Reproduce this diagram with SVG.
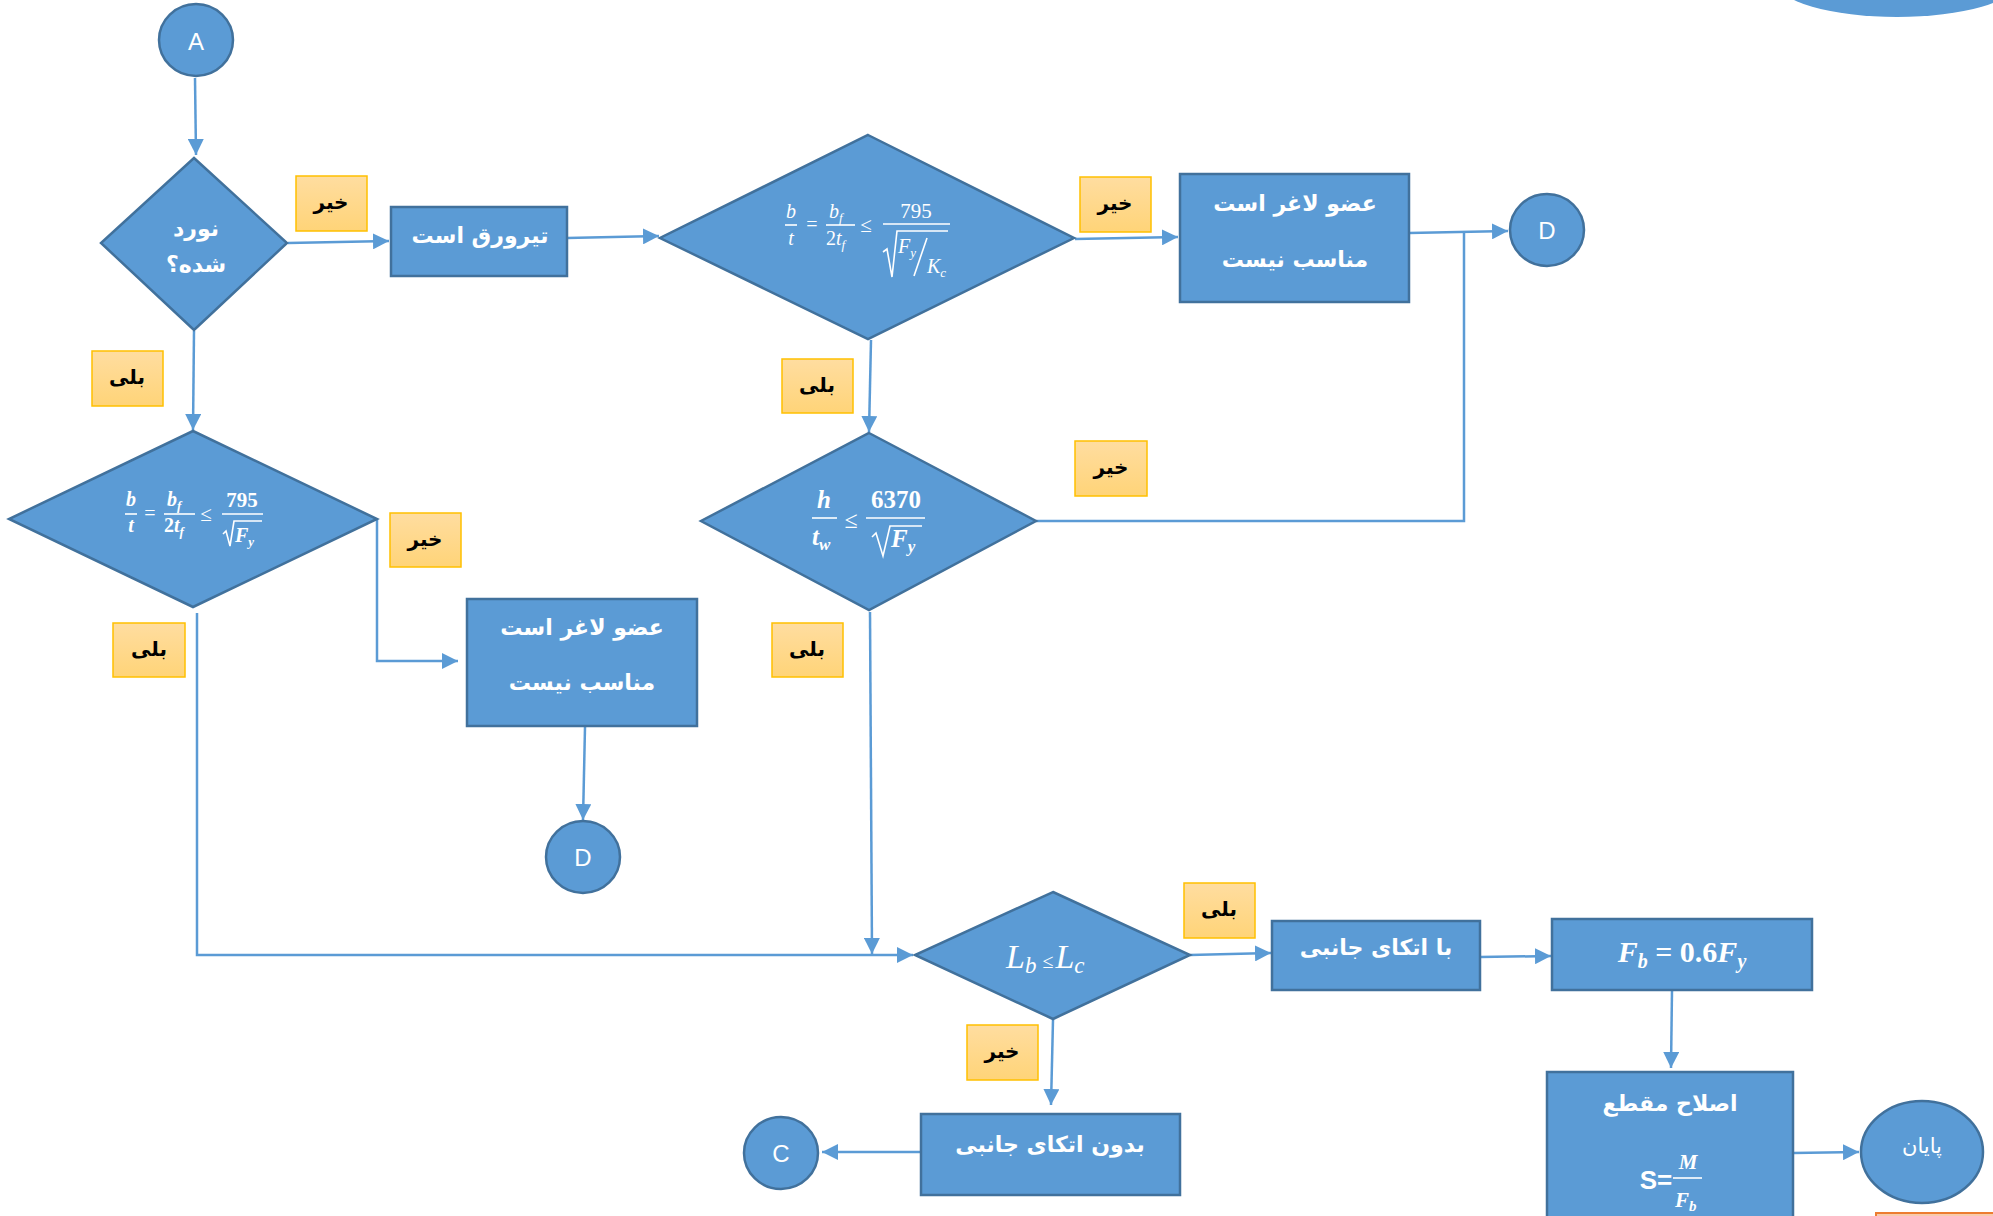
<svg xmlns="http://www.w3.org/2000/svg" width="1993" height="1216" viewBox="0 0 1993 1216">
<style>
.node{fill:#5B9BD5;stroke:#41719C;stroke-width:2.5}
.lbl{fill:url(#lg);stroke:#FFC000;stroke-width:1.5}
.con{fill:none;stroke:#5B9BD5;stroke-width:2.5}
.ar{font-family:"DejaVu Sans","Noto Sans",sans-serif;font-weight:bold;fill:#fff;text-anchor:middle;font-size:22px}
.lt{font-family:"DejaVu Sans","Noto Sans",sans-serif;font-weight:bold;fill:#000;text-anchor:middle;font-size:20px}
.ltr{font-family:"Liberation Sans",Arial,sans-serif;fill:#fff;text-anchor:middle;font-size:24px}
.m{font-family:"Liberation Serif","DejaVu Serif",serif;fill:#fff;font-style:italic}
.mb{font-family:"Liberation Serif","DejaVu Serif",serif;fill:#fff;font-style:italic;font-weight:bold}
.n{font-style:normal}
.bar{stroke:#fff;stroke-width:1.6;fill:none}
</style>
<defs>
<linearGradient id="lg" x1="0" y1="0" x2="0" y2="1">
<stop offset="0" stop-color="#FFDDA0"/>
<stop offset="1" stop-color="#FFD478"/>
</linearGradient>
<marker id="ah" markerUnits="userSpaceOnUse" markerWidth="17" markerHeight="16" refX="16" refY="8" orient="auto">
<path d="M0,0 L16,8 L0,16 z" fill="#5B9BD5"/>
</marker>
</defs>

<g id="connectors">
<path class="con" d="M195,78 L196,155" marker-end="url(#ah)"/>
<path class="con" d="M288,243 L389,241" marker-end="url(#ah)"/>
<path class="con" d="M567,238 L659,236" marker-end="url(#ah)"/>
<path class="con" d="M1075,239 L1178,237" marker-end="url(#ah)"/>
<path class="con" d="M1409,233 L1508,231" marker-end="url(#ah)"/>
<path class="con" d="M1036,521 L1464,521 L1464,232"/>
<path class="con" d="M871,340 L869,432" marker-end="url(#ah)"/>
<path class="con" d="M194,331 L193,430" marker-end="url(#ah)"/>
<path class="con" d="M377,519 L377,661 L458,661" marker-end="url(#ah)"/>
<path class="con" d="M585,727 L583,820" marker-end="url(#ah)"/>
<path class="con" d="M197,613 L197,955 L913,955" marker-end="url(#ah)"/>
<path class="con" d="M870,612 L872,954" marker-end="url(#ah)"/>
<path class="con" d="M1190,955 L1271,953" marker-end="url(#ah)"/>
<path class="con" d="M1480,957 L1551,956" marker-end="url(#ah)"/>
<path class="con" d="M1672,990 L1671,1068" marker-end="url(#ah)"/>
<path class="con" d="M1793,1153 L1859,1152" marker-end="url(#ah)"/>
<path class="con" d="M1053,1020 L1051,1105" marker-end="url(#ah)"/>
<path class="con" d="M921,1152 L822,1152" marker-end="url(#ah)"/>
</g>

<g id="partial-top">
<ellipse cx="1897" cy="-18" rx="120" ry="35" fill="#5B9BD5"/>
</g>
<g id="partial-bottom">
<rect x="1876" y="1213" width="130" height="40" fill="#F8CBAD" stroke="#ED7D31" stroke-width="2"/>
</g>

<g id="nodeA">
<ellipse class="node" cx="196" cy="40" rx="37" ry="36"/>
<text class="ltr" x="196" y="50">A</text>
</g>

<g id="decision-rolled">
<polygon class="node" points="194,158 287,243 194,330 101,243"/>
<text class="ar" x="196" y="236" font-size="23">نورد</text>
<text class="ar" x="196" y="272" font-size="23">شده؟</text>
</g>

<g id="box-plate">
<rect class="node" x="391" y="207" width="176" height="69"/>
<text class="ar" x="480" y="243">تیرورق است</text>
</g>

<g id="decision-flange-plate">
<polygon class="node" points="868,135 1074,238 868,339 660,238"/>
<text class="m" x="791" y="218" text-anchor="middle" font-size="20">b</text>
<line class="bar" x1="785" y1="225" x2="797" y2="225"/>
<text class="m" x="791" y="245" text-anchor="middle" font-size="20">t</text>
<text class="m n" x="812" y="231" text-anchor="middle" font-size="20">=</text>
<text class="m" x="829" y="218" font-size="20">b<tspan font-size="13" dy="4">f</tspan></text>
<line class="bar" x1="826" y1="225" x2="855" y2="225"/>
<text class="m" x="826" y="245" font-size="20"><tspan class="n">2</tspan>t<tspan font-size="13" dy="4">f</tspan></text>
<text class="m n" x="866" y="232" text-anchor="middle" font-size="21">≤</text>
<text class="m n" x="916" y="218" text-anchor="middle" font-size="21">795</text>
<line class="bar" x1="883" y1="224" x2="950" y2="224"/>
<path class="bar" d="M883,252 L887,249 L892,277 L897,231 L948,231"/>
<text class="m" x="898" y="253" font-size="20">F<tspan font-size="13" dy="4">y</tspan></text>
<line class="bar" x1="914" y1="276" x2="927" y2="238"/>
<text class="m" x="927" y="273" font-size="20">K<tspan font-size="13" dy="4">c</tspan></text>
</g>

<g id="box-slender-1">
<rect class="node" x="1180" y="174" width="229" height="128"/>
<text class="ar" x="1295" y="211">عضو لاغر است</text>
<text class="ar" x="1295" y="267">مناسب نیست</text>
</g>

<g id="nodeD1">
<ellipse class="node" cx="1547" cy="230" rx="37" ry="36"/>
<text class="ltr" x="1547" y="239">D</text>
</g>

<g id="decision-web">
<polygon class="node" points="869,433 1036,521 869,610 701,521"/>
<text class="mb" x="824" y="508" text-anchor="middle" font-size="25">h</text>
<line class="bar" x1="812" y1="518" x2="837" y2="518" stroke-width="2"/>
<text class="mb" x="812" y="545" font-size="25">t<tspan font-size="17" dy="5">w</tspan></text>
<text class="m n" x="851" y="528" text-anchor="middle" font-size="24">≤</text>
<text class="mb n" x="896" y="508" text-anchor="middle" font-size="25">6370</text>
<line class="bar" x1="866" y1="518" x2="925" y2="518" stroke-width="2"/>
<path class="bar" d="M872,537 L876,533 L883,556 L890,526 L922,526"/>
<text class="mb" x="891" y="547" font-size="25">F<tspan font-size="17" dy="5">y</tspan></text>
</g>

<g id="decision-rolled-flange">
<polygon class="node" points="193,431 377,519 193,607 9,519"/>
<text class="mb" x="131" y="506" text-anchor="middle" font-size="20">b</text>
<line class="bar" x1="125" y1="514" x2="137" y2="514" stroke-width="2"/>
<text class="mb" x="131" y="532" text-anchor="middle" font-size="20">t</text>
<text class="m n" x="150" y="520" text-anchor="middle" font-size="20">=</text>
<text class="mb" x="167" y="506" font-size="20">b<tspan font-size="13" dy="4">f</tspan></text>
<line class="bar" x1="164" y1="514" x2="195" y2="514" stroke-width="2"/>
<text class="mb" x="164" y="532" font-size="20"><tspan class="n">2</tspan>t<tspan font-size="13" dy="4">f</tspan></text>
<text class="m n" x="206" y="521" text-anchor="middle" font-size="21">≤</text>
<text class="mb n" x="242" y="507" text-anchor="middle" font-size="21">795</text>
<line class="bar" x1="222" y1="514" x2="263" y2="514" stroke-width="2"/>
<path class="bar" d="M223,534 L226,531 L230,546 L234,521 L262,521"/>
<text class="mb" x="235" y="542" font-size="20">F<tspan font-size="13" dy="4">y</tspan></text>
</g>

<g id="box-slender-2">
<rect class="node" x="467" y="599" width="230" height="127"/>
<text class="ar" x="582" y="635">عضو لاغر است</text>
<text class="ar" x="582" y="690">مناسب نیست</text>
</g>

<g id="nodeD2">
<ellipse class="node" cx="583" cy="857" rx="37" ry="36"/>
<text class="ltr" x="583" y="866">D</text>
</g>

<g id="decision-length">
<polygon class="node" points="1053,892 1190,955 1053,1019 915,955"/>
<text class="m" x="1006" y="968" font-size="34">L<tspan font-size="23" dy="5">b</tspan><tspan class="n" font-size="20" dy="-5" dx="6">≤</tspan><tspan dx="2">L</tspan><tspan font-size="23" dy="5">c</tspan></text>
</g>

<g id="box-braced">
<rect class="node" x="1272" y="921" width="208" height="69"/>
<text class="ar" x="1376" y="955">با اتکای جانبی</text>
</g>

<g id="box-fb">
<rect class="node" x="1552" y="919" width="260" height="71"/>
<text class="mb" x="1682" y="962" text-anchor="middle" font-size="30">F<tspan font-size="20" dy="6">b</tspan><tspan class="n" dy="-6"> = 0.6</tspan>F<tspan font-size="20" dy="6">y</tspan></text>
</g>

<g id="box-section">
<rect class="node" x="1547" y="1072" width="246" height="160"/>
<text class="ar" x="1670" y="1111" font-size="26">اصلاح مقطع</text>
<text x="1656" y="1189" text-anchor="middle" font-family="Liberation Sans, Arial, sans-serif" font-weight="bold" font-size="26" fill="#fff">S=</text>
<text class="mb" x="1688" y="1169" text-anchor="middle" font-size="21">M</text>
<line class="bar" x1="1673" y1="1178" x2="1702" y2="1178" stroke-width="2.5"/>
<text class="mb" x="1675" y="1207" font-size="21">F<tspan font-size="15" dy="4">b</tspan></text>
</g>

<g id="nodeEnd">
<ellipse class="node" cx="1922" cy="1152" rx="61" ry="51"/>
<text x="1922" y="1153" text-anchor="middle" font-family="DejaVu Sans, sans-serif" font-size="21" fill="#fff">پایان</text>
</g>

<g id="box-unbraced">
<rect class="node" x="921" y="1114" width="259" height="81"/>
<text class="ar" x="1050" y="1152">بدون اتکای جانبی</text>
</g>

<g id="nodeC">
<ellipse class="node" cx="781" cy="1153" rx="37" ry="36"/>
<text class="ltr" x="781" y="1162">C</text>
</g>

<g id="labels">
<rect class="lbl" x="296" y="176" width="71" height="55"/><text class="lt" x="331" y="209">خیر</text>
<rect class="lbl" x="92" y="351" width="71" height="55"/><text class="lt" x="127" y="384">بلی</text>
<rect class="lbl" x="1080" y="177" width="71" height="55"/><text class="lt" x="1115" y="210">خیر</text>
<rect class="lbl" x="782" y="359" width="71" height="54"/><text class="lt" x="817" y="392">بلی</text>
<rect class="lbl" x="1075" y="441" width="72" height="55"/><text class="lt" x="1111" y="474">خیر</text>
<rect class="lbl" x="390" y="513" width="71" height="54"/><text class="lt" x="425" y="546">خیر</text>
<rect class="lbl" x="113" y="623" width="72" height="54"/><text class="lt" x="149" y="656">بلی</text>
<rect class="lbl" x="772" y="623" width="71" height="54"/><text class="lt" x="807" y="656">بلی</text>
<rect class="lbl" x="1184" y="883" width="71" height="55"/><text class="lt" x="1219" y="916">بلی</text>
<rect class="lbl" x="967" y="1025" width="71" height="55"/><text class="lt" x="1002" y="1058">خیر</text>
</g>
</svg>
